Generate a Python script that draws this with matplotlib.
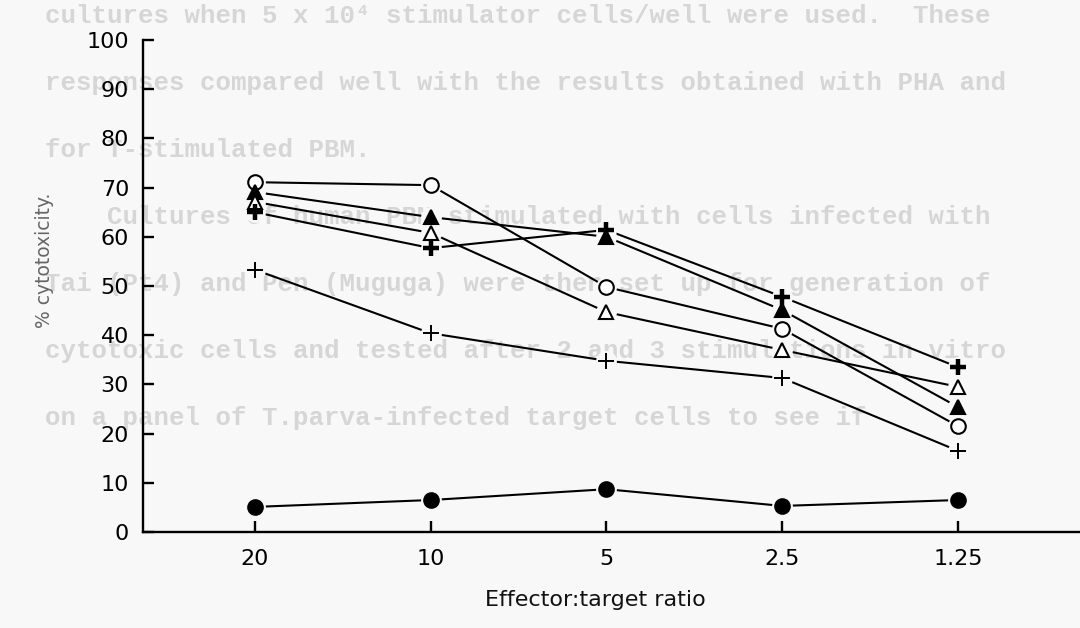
import matplotlib
matplotlib.use("Agg")
import matplotlib.pyplot as plt

# ---- data ----
ratios = ["20", "10", "5", "2.5", "1.25"]
open_circle = [71.1, 70.5, 49.8, 41.3, 21.5]
filled_triangle = [69.1, 64.0, 60.0, 45.1, 25.4]
open_triangle = [67.1, 60.8, 44.7, 37.0, 29.5]
bold_plus = [65.0, 57.7, 61.4, 47.8, 33.5]
thin_plus = [53.3, 40.4, 34.8, 31.3, 16.5]
filled_circle = [5.1, 6.5, 8.7, 5.3, 6.5]
y_ticks = [0, 10, 20, 30, 40, 50, 60, 70, 80, 90, 100]

# faint bleed-through typescript from the page
page_lines = [
    "cultures when 5 x 10\u2074 stimulator cells/well were used.  These",
    "responses compared well with the results obtained with PHA and",
    "for T-stimulated PBM.",
    "    Cultures of human PBM stimulated with cells infected with",
    "Tai (Pt4) and Pen (Muguga) were then set up for generation of",
    "cytotoxic cells and tested after 2 and 3 stimulations in vitro",
    "on a panel of T.parva-infected target cells to see if",
]

plt.rcParams['font.family'] = ['DejaVu Sans']

bg = '#f8f8f8'
fig = plt.figure(figsize=(10.8, 6.28), dpi=100, facecolor=bg)

for i, line in enumerate(page_lines):
    fig.text(45 / 1080, 1 - (16 + 67 * i) / 628, line, family='Liberation Mono',
             fontsize=18.5, fontweight='bold', color='#d6d6d6', va='center',
             ha='left', zorder=0)

ax = fig.add_axes([143 / 1080, 96 / 628, 1 - 143 / 1080, (588 - 96) / 628], zorder=1)
ax.patch.set_alpha(0)

x = list(range(len(ratios)))
series = [
    (open_circle, 'o', 'white', 1.5),
    (filled_triangle, '^', 'black', 1.5),
    (open_triangle, '^', 'white', 1.5),
    (bold_plus, '+', 'black', 3.2),
    (thin_plus, '+', 'black', 1.4),
    (filled_circle, 'o', 'black', 1.5),
]

for vals, m, fc, mew in series:
    ax.plot(x, vals, color='black', lw=1.5, zorder=2, solid_capstyle='butt')
for vals, m, fc, mew in series:
    ax.plot(x, vals, ls='none', marker='o', ms=15, mfc=bg, mec='none', zorder=3)
for vals, m, fc, mew in series:
    size = 10.5 if m != '+' else 11
    ax.plot(x, vals, ls='none', marker=m, ms=size, mfc=fc, mec='black', mew=mew, zorder=4)

ax.set_xlim(-0.637, 4.694)
ax.set_ylim(0, 100)
ax.set_xticks(x)
ax.set_xticklabels(ratios)
ax.set_yticks(y_ticks)
ax.spines['top'].set_visible(False)
ax.spines['right'].set_visible(False)
for s in ('left', 'bottom'):
    ax.spines[s].set_linewidth(1.7)
ax.tick_params(axis='both', direction='in', length=8, width=1.7, labelsize=16,
               colors='black')
ax.tick_params(axis='x', pad=12)
ax.tick_params(axis='y', pad=10)

fig.text(595 / 1080, 1 - 600 / 628, "Effector:target ratio", fontsize=16,
         ha='center', va='center', color='#111111')
fig.text(45 / 1080, 1 - 260 / 628, "% cytotoxicity.", fontsize=13.5, rotation=90,
         ha='center', va='center', color='#666666')

fig.savefig("out.png", dpi=100, facecolor=fig.get_facecolor())
